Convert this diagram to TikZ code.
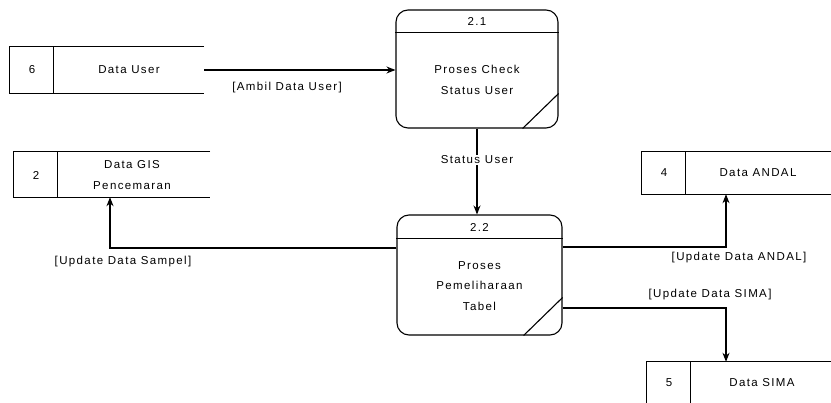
\documentclass[tikz,border=0pt]{standalone}
\usepackage{fontspec}
\setmainfont[LetterSpace=12]{Liberation Sans}
\usetikzlibrary{arrows.meta, positioning}

\tikzset{
  proc/.style={draw, line width=1.1pt, rounded corners=12pt, inner sep=0pt},
  store/.style={inner sep=0pt},
  txt/.style={font=\fontsize{11.5}{20.5}\selectfont, align=center, inner sep=1pt},
  flow/.style={line width=1.1pt, -{Stealth[length=9pt, width=7pt]}},
  storeline/.style={line width=1.1pt}
}

\begin{document}
\begin{tikzpicture}[x=1pt, y=-1pt]
            \useasboundingbox (0,0) rectangle (831,403);

            % Processes
            \node[proc, minimum width=162pt, minimum height=118pt] (p21) at (477,69) {};
            \draw[storeline] ([yshift=-23pt]p21.north west) -- ([yshift=-23pt]p21.north east);
            \draw[storeline] ([xshift=-36pt]p21.south east) -- ([yshift=35pt]p21.south east);
            \node[txt] (p21num) at (477,21) {2.1};
            \node[txt] (p21txt) at (477,80) {Proses Check\\Status User};

            \node[proc, minimum width=165pt, minimum height=120pt] (p22) at (479.5,275) {};
            \draw[storeline] ([yshift=-24pt]p22.north west) -- ([yshift=-24pt]p22.north east);
            \draw[storeline] ([xshift=-39pt]p22.south east) -- ([yshift=38pt]p22.south east);
            \node[txt] (p22num) at (479.5,227) {2.2};
            \node[txt] (p22txt) at (479.5,286) {Proses\\Pemeliharaan\\Tabel};

            % Data stores
            \node[store, minimum width=194pt, minimum height=46pt] (d6) at (107,70) {};
            \node[store, minimum width=196pt, minimum height=45pt] (d2) at (112,174.5) {};
            \node[store, minimum width=198pt, minimum height=42pt] (d4) at (741,173) {};
            \node[store, minimum width=198pt, minimum height=60pt] (d5) at (746,392) {};
            \foreach \d in {d6,d2,d4,d5}{
              \draw[storeline] (\d.north east) -- (\d.north west) -- (\d.south west) -- (\d.south east);
              \draw[storeline] ([xshift=44pt]\d.north west) -- ([xshift=44pt]\d.south west);
            }

            % Store labels
            \node[txt] (d6num) at (32,70) {6};
            \node[txt] (d6txt) at (129,70) {Data User};
            \node[txt] (d2num) at (36,175) {2};
            \node[txt] (d2txt) at (132,175) {Data GIS\\Pencemaran};
            \node[txt] (d4num) at (664,173) {4};
            \node[txt] (d4txt) at (758,173) {Data ANDAL};
            \node[txt] (d5num) at (669,383) {5};
            \node[txt] (d5txt) at (762,383) {Data SIMA};

            % Bends
            \coordinate (sampel) at (110,248);
            \coordinate (andal) at (726,247);
            \coordinate (sima) at (726,308);

            % Flows
            \draw[flow] (d6.east) -- (d6.east -| p21.west);
            \draw[flow] (p21.south) -- (p21.south |- p22.north);
            \draw[flow] (p22.west |- sampel) -| (sampel |- d2.south);
            \draw[flow] (p22.east |- andal) -| (andal |- d4.south);
            \draw[flow] (p22.east |- sima) -| (sima |- d5.north);

            % Flow labels
            \node[txt] (ambil) at (287,88) {[Ambil Data User]};
            \node[txt, fill=white] (status) at (477,160) {Status User};
            \node[txt] (sampellbl) at (123,262) {[Update Data Sampel]};
            \node[txt] (andallbl) at (739,258) {[Update Data ANDAL]};
            \node[txt] (simalbl) at (710,295) {[Update Data SIMA]};
        \end{tikzpicture}
\end{document}
